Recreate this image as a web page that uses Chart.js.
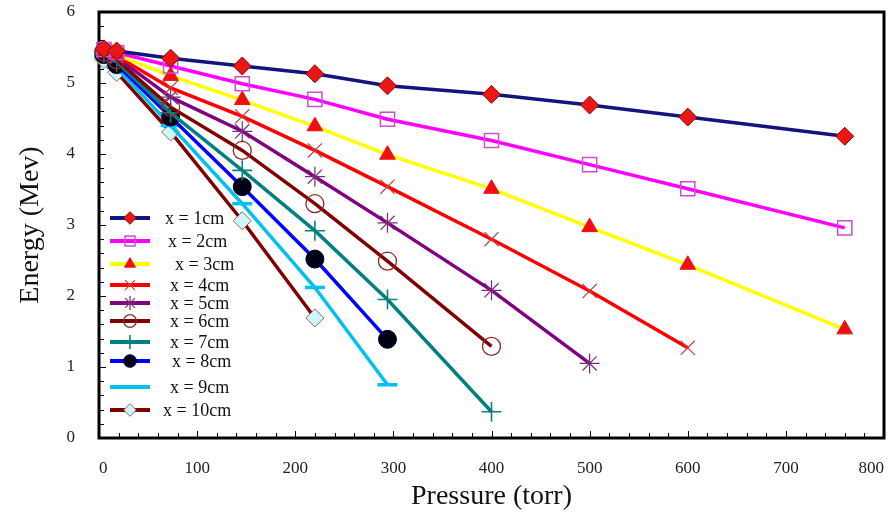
<!DOCTYPE html>
<html>
<head>
<meta charset="utf-8">
<title>Energy vs Pressure</title>
<script src="https://cdn.jsdelivr.net/npm/chart.js@4.4.0/dist/chart.umd.min.js"></script>
<style>
  html, body { margin: 0; padding: 0; background: #fff; }
  #wrap { width: 890px; height: 517px; }
</style>
</head>
<body>
<div id="wrap"><canvas id="chart" width="890" height="517"></canvas></div>
<script>
// Pressure (torr) at which the energies were measured, shared by every curve
const pressure = [5, 18, 73, 146, 220, 294, 400, 500, 600, 760];

// Axis tick labels
const pressureTicks = [0, 100, 200, 300, 400, 500, 600, 700, 800];
const energyTicks = [0, 1, 2, 3, 4, 5, 6];

const seriesNames = [
  "x = 1cm", "x = 2cm", "x = 3cm", "x = 4cm", "x = 5cm",
  "x = 6cm", "x = 7cm", "x = 8cm", "x = 9cm", "x = 10cm",
];

// Energy (MeV) for each distance
const energy1cm = [5.48, 5.45, 5.35, 5.24, 5.13, 4.96, 4.84, 4.69, 4.52, 4.25];
const energy2cm = [5.47, 5.43, 5.24, 4.99, 4.77, 4.49, 4.19, 3.85, 3.51, 2.96];
const energy3cm = [5.46, 5.40, 5.10, 4.76, 4.39, 3.99, 3.51, 2.97, 2.44, 1.53];
const energy4cm = [5.46, 5.38, 4.93, 4.53, 4.05, 3.54, 2.80, 2.07, 1.27];
const energy5cm = [5.45, 5.36, 4.80, 4.32, 3.68, 3.03, 2.08, 1.05];
const energy6cm = [5.44, 5.33, 4.66, 4.05, 3.30, 2.49, 1.29];
const energy7cm = [5.42, 5.30, 4.58, 3.77, 2.92, 1.95, 0.37];
const energy8cm = [5.40, 5.26, 4.52, 3.54, 2.52, 1.39];
const energy9cm = [5.37, 5.22, 4.40, 3.30, 2.12, 0.75];
const energy10cm = [5.33, 5.15, 4.31, 3.06, 1.69];

const energies = [
  energy1cm, energy2cm, energy3cm, energy4cm, energy5cm,
  energy6cm, energy7cm, energy8cm, energy9cm, energy10cm,
];

// line colour + marker look for each curve
const styles = [
  { line: "#14147e", point: "rectRot", r: 9, bg: "#ee1515", bc: "#7a1010", bw: 1 },
  { line: "#ff00ff", point: "rect", r: 10, bg: "rgba(255,255,255,0)", bc: "#cc4fcc", bw: 1.5 },
  { line: "#ffff00", point: "triangle", r: 9, bg: "#ee1010", bc: "#ee1010", bw: 1 },
  { line: "#ff0000", point: "crossRot", r: 10, bg: "#c84040", bc: "#c84040", bw: 1.2 },
  { line: "#800080", point: "star", r: 10, bg: "#7a2a7a", bc: "#7a2a7a", bw: 1.2 },
  { line: "#800000", point: "circle", r: 9, bg: "rgba(255,255,255,0)", bc: "#8a2a2a", bw: 1.3 },
  { line: "#008080", point: "cross", r: 10, bg: "#108080", bc: "#108080", bw: 1.6 },
  { line: "#0000ff", point: "circle", r: 9, bg: "#000014", bc: "#000030", bw: 1 },
  { line: "#00c0f0", point: "line", r: 10, bg: "#00c0f0", bc: "#00c0f0", bw: 3.5 },
  { line: "#800000", point: "rectRot", r: 9, bg: "#d2f5f7", bc: "#807070", bw: 1 },
];

const SERIF = "'Liberation Serif', 'DejaVu Serif', serif";

const datasets = energies.map((values, i) => ({
  label: seriesNames[i],
  data: values.map((e, k) => ({ x: pressure[k], y: e })),
  borderColor: styles[i].line,
  borderWidth: 3.5,
  pointStyle: styles[i].point,
  pointRadius: styles[i].r,
  pointBackgroundColor: styles[i].bg,
  pointBorderColor: styles[i].bc,
  pointBorderWidth: styles[i].bw,
  tension: 0,
  clip: false,
}));

// frame, inward ticks and the legend inside the plot
const framePlugin = {
  id: "frame",
  beforeDatasetsDraw(chart) {
    const { ctx, chartArea: a, scales } = chart;
    ctx.save();

    // minor/major ticks pointing into the plot
    ctx.strokeStyle = "#000";
    ctx.lineWidth = 1;
    const xs = scales.x, ys = scales.y;
    for (let v = xs.min; v <= xs.max + 0.01; v += 20) {
      const px = Math.round(xs.getPixelForValue(v)) + 0.5;
      const len = v % 100 === 0 ? 7 : 5;
      ctx.beginPath();
      ctx.moveTo(px, a.bottom);
      ctx.lineTo(px, a.bottom - len);
      ctx.stroke();
    }
    for (let k = 0; k <= 30; k++) {
      const v = k * 0.2;
      const py = Math.round(ys.getPixelForValue(v)) + 0.5;
      const len = k % 5 === 0 ? 7 : 5;
      ctx.beginPath();
      ctx.moveTo(a.left, py);
      ctx.lineTo(a.left + len, py);
      ctx.stroke();
    }

    // legend
    const rowY = [218, 241, 264, 285, 303, 321, 342, 361, 387, 410];
    const textX = [165, 168, 175, 170, 170, 170, 170, 172, 170, 163];
    ctx.font = "18px " + SERIF;
    ctx.textBaseline = "middle";
    ctx.textAlign = "left";
    seriesNames.forEach((name, i) => {
      const y = rowY[i];
      const s = styles[i];
      ctx.strokeStyle = s.line;
      ctx.lineWidth = 4;
      ctx.beginPath();
      ctx.moveTo(110, y);
      ctx.lineTo(150, y);
      ctx.stroke();
      if (i !== 8 && Chart.helpers && Chart.helpers.drawPoint) {
        ctx.fillStyle = s.bg;
        ctx.strokeStyle = s.bc;
        ctx.lineWidth = s.bw;
        Chart.helpers.drawPoint(ctx, {
          pointStyle: s.point, radius: s.r * 0.7, rotation: 0, borderWidth: s.bw,
        }, 130, y);
      }
      ctx.fillStyle = "#111";
      ctx.fillText(name, textX[i], y + 1);
    });

    // black frame
    ctx.strokeStyle = "#000";
    ctx.lineWidth = 3;
    ctx.strokeRect(a.left, a.top, a.right - a.left, a.bottom - a.top);
    ctx.restore();
  },
};

new Chart(document.getElementById("chart"), {
  type: "line",
  data: { datasets },
  options: {
    responsive: false,
    animation: false,
    devicePixelRatio: 1,
    layout: { autoPadding: false, padding: { top: 12, right: 6, left: 0, bottom: 0 } },
    plugins: {
      legend: { display: false },
      tooltip: { enabled: false },
    },
    scales: {
      x: {
        type: "linear",
        min: 0,
        max: 800,
        afterBuildTicks: (s) => { s.ticks = pressureTicks.map((v) => ({ value: v })); },
        afterFit: (s) => {
          s.height = 79;
          s.paddingLeft = 0;
          s.paddingRight = 0;
        },
        grid: { display: false, drawTicks: false },
        border: { display: false },
        ticks: { padding: 20, align: "inner", color: "#222", font: { family: SERIF, size: 17 } },
        title: {
          display: true,
          text: "Pressure (torr)",
          color: "#111",
          font: { family: SERIF, size: 28 },
          padding: { top: 0, bottom: 4 },
        },
      },
      y: {
        type: "linear",
        min: 0,
        max: 6,
        afterBuildTicks: (s) => { s.ticks = energyTicks.map((v) => ({ value: v })); },
        afterFit: (s) => {
          s.width = 99;
          s.paddingTop = 0;
          s.paddingBottom = 0;
        },
        grid: { display: false, drawTicks: false },
        border: { display: false },
        ticks: { padding: 24, color: "#222", font: { family: SERIF, size: 17 } },
        title: {
          display: true,
          text: "Energy (Mev)",
          color: "#111",
          font: { family: SERIF, size: 28 },
          padding: { top: 14, bottom: 0 },
        },
      },
    },
  },
  plugins: [framePlugin],
});
</script>
</body>
</html>
